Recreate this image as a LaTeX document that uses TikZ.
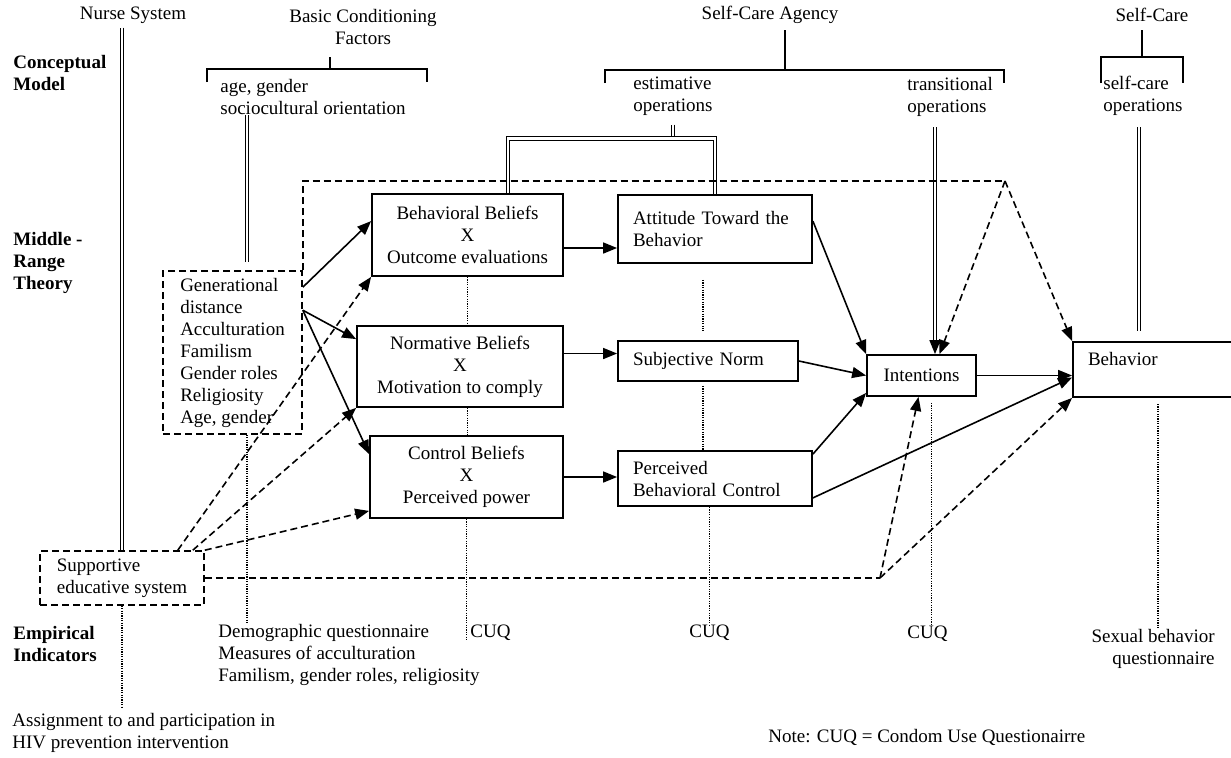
\documentclass[tikz,border=0pt]{standalone}
\usepackage{fontspec}
\setmainfont{Liberation Serif}
\usetikzlibrary{arrows.meta,calc}

\begin{document}
\begin{tikzpicture}[x=0.5pt, y=-0.5pt, >={Triangle[length=7pt,width=5.5pt]},
  font=\fontsize{9.5}{11}\selectfont,
  txt/.style={inner sep=0pt, align=left},
  lbl/.style={txt, anchor=west, font=\fontsize{9.5}{11}\selectfont\bfseries},
  box/.style={draw, line width=0.9pt, align=center, inner sep=2pt},
  boxl/.style={draw, line width=0.9pt, align=left, inner xsep=7.5pt, inner ysep=2pt},
  dbox/.style={draw, line width=0.8pt, dash pattern=on 3.5pt off 2pt, align=left, inner sep=2pt},
  arr/.style={->, line width=0.8pt},
  dsh/.style={line width=0.8pt, dash pattern=on 3.5pt off 2pt},
  dot/.style={line width=0.6pt, dash pattern=on 0.6pt off 0.6pt},
  dbl/.style={double, double distance=1.2pt, line width=0.5pt},
  brk/.style={line width=0.55pt}]
\useasboundingbox (0,0) rectangle (1231,757);

\node[txt] (nurse) at (133,15) {Nurse System};
\node[txt, align=center] (bcf) at (363,26.5) {Basic Conditioning\\Factors};
\node[txt] (sca) at (770,15) {Self-Care Agency};
\node[txt] (sc) at (1152,15) {Self-Care};
\node[lbl] (cm) at (13,72.5) {Conceptual\\Model};
\node[lbl] (mrt) at (13,262.5) {Middle -\\Range\\Theory};
\node[lbl] (ei) at (13,643.5) {Empirical\\Indicators};
\node[txt, anchor=west] (socio) at (220,97) {age, gender\\sociocultural orientation};
\node[txt, anchor=west] (est) at (633,96) {estimative\\operations};
\node[txt, anchor=west] (trans) at (907,96.5) {transitional\\operations};
\node[txt, anchor=west] (scop) at (1103,96) {self-care\\operations};

\draw[brk] (207,82) -- (207,69) -- (427,69) -- (427,82);
\draw[brk] (330,57) -- (330,69);
\draw[brk] (605,83) -- (605,70) -- (1004,70) -- (1004,83);
\draw[brk] (785,30) -- (785,70);
\draw[brk] (1101,83) -- (1101,57) -- (1183,57) -- (1183,83);
\draw[brk] (1142,30) -- (1142,57);

\node[box, minimum width=95.5pt, minimum height=41pt] (bb) at (467.5,235) {Behavioral Beliefs\\X\\Outcome evaluations};
\node[box, minimum width=103pt, minimum height=40.5pt] (nb) at (460,366.5) {Normative Beliefs\\X\\Motivation to comply};
\node[box, minimum width=96.5pt, minimum height=41pt] (cb) at (466.5,477) {Control Beliefs\\X\\Perceived power};
\node[boxl, minimum height=34pt, text width=82pt] (att) at (715,229) {Attitude Toward the\\Behavior};
\node[boxl, minimum height=20pt, text width=75pt] (sn) at (708,361) {Subjective Norm};
\node[boxl, minimum height=27.5pt, text width=82pt] (pbc) at (715,478.5) {Perceived\\Behavioral Control};
\node[box, minimum width=54.5pt, minimum height=20.5pt] (int) at (921.5,375.5) {Intentions};
\node[boxl, minimum height=27.5pt, text width=70pt] (beh) at (1158,369.5) {Behavior\\\mbox{}};
\node[dbox, minimum width=69.5pt, minimum height=81.5pt] (gen) at (232.5,352.5) {Generational\\distance\\Acculturation\\Familism\\Gender roles\\Religiosity\\Age, gender};
\node[dbox, minimum width=82pt, minimum height=27pt] (sup) at (122,578) {Supportive\\educative system};

\node[txt, anchor=west] (demog) at (218,654.5) {Demographic questionnaire\\Measures of acculturation\\Familism, gender roles, religiosity};
\node[txt, anchor=west] (cuq1) at (470,633) {CUQ};
\node[txt, anchor=west] (cuq2) at (689,633) {CUQ};
\node[txt, anchor=west] (cuq3) at (907,634) {CUQ};
\node[txt, anchor=east, align=right] (sexual) at (1215,649) {Sexual behavior\\questionnaire};
\node[txt, anchor=west] (assign) at (12,733) {Assignment to and participation in\\HIV prevention intervention};
\node[txt, anchor=west] (note) at (768,737) {Note: CUQ = Condom Use Questionairre};

\coordinate (gtop) at (247,262);
\coordinate (bbar) at (508,138.5);
\coordinate (abar) at (715,138.5);
\coordinate (tline) at (935,127);
\coordinate (sline) at (1139,127);
\coordinate (vline) at (703,0);
\coordinate (apex) at (1005,181);
\coordinate (knee) at (880,578);

\draw[dbl] ($(sup.north |- nurse.south)+(0,4)$) -- (sup.north);
\draw[dbl] (socio.south -| gtop) -- (gtop);
\draw[dbl] ($(est.south)+(0,9)$) -- (est.south |- bbar);
\draw[dbl] (bbar |- bb.north) -- (bbar) -- (abar) -- (abar |- att.north);
\draw[dbl] (tline) -- ($(tline |- int.north)+(0,-10)$);
\draw[arr] ($(tline |- int.north)+(0,-13)$) -- (tline |- int.north);
\draw[dbl] (sline) -- ($(sline |- beh.north)+(0,-10)$);

\draw[arr] ($(gen.north east)+(0,17)$) -- ($(bb.north west)+(0,28)$);
\draw[arr] ($(gen.north east)+(0,40)$) -- ($(nb.north west)+(0,14)$);
\draw[arr] ($(gen.north east)+(0,40)$) -- ($(cb.north west)+(0,19)$);
\draw[arr] ($(bb.east)+(0,13)$) coordinate (b1) -- (b1 -| att.west);
\draw[arr] ($(nb.east)+(0,-13)$) coordinate (n1) -- (n1 -| sn.west);
\draw[arr] (cb.east) -- (cb.east -| pbc.west);
\draw[arr] ($(att.north east)+(0,27)$) -- (int.north west);
\draw[arr] (sn.east) -- (int.west);
\draw[arr] ($(pbc.north east)+(0,4)$) -- ($(int.south west)+(0,-4)$);
\draw[arr] ($(pbc.south east)+(0,-9)$) -- ($(beh.west)+(0,8)$);
\draw[arr] (int.east) -- (int.east -| beh.west);

\draw[dsh] (gen.north east) -- (gen.north east |- apex) -- (apex);
\draw[dsh,->] (apex) -- ($(int.north)+(18,0)$);
\draw[dsh,->] (apex) -- (beh.north west);
\draw[dsh,->] ($(sup.north east)+(-27,0)$) -- (bb.south west);
\draw[dsh,->] ($(sup.north east)+(-12,0)$) -- (nb.south west);
\draw[dsh,->] (sup.north east) -- ($(cb.south west)+(0,-8)$);
\draw[dsh] (sup.east) -- (knee);
\draw[dsh,->] (knee) -- ($(int.south)+(-3,0)$);
\draw[dsh,->] (knee) -- (beh.south west);

\draw[dot] (sup.south) -- ($(sup.south |- assign.north)+(0,-6)$);
\draw[dot] (gen.south -| gtop) -- (demog.north -| gtop);
\draw[dot] (bb.south) -- (bb.south |- nb.north);
\draw[dot] (bb.south |- nb.south) -- (bb.south |- cb.north);
\draw[dot] (cb.south) -- (cb.south |- cuq1.south);
\draw[dot] ($(att.south -| vline)+(0,16)$) -- ($(sn.north -| vline)+(0,-9)$);
\draw[dot] ($(sn.south -| vline)+(0,4)$) -- (pbc.north -| vline);
\draw[dot] (pbc.south -| cuq2.north) -- (cuq2.north);
\draw[dot] ($(int.south)+(10,6)$) coordinate (i1) -- (i1 |- cuq3.north);
\draw[dot] ($(beh.south)+(0,6)$) coordinate (h1) -- (h1 |- sexual.north);
\end{tikzpicture}
\end{document}
